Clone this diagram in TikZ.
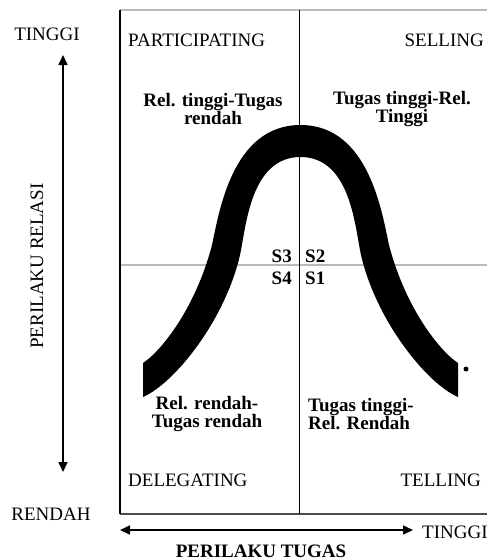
\documentclass[tikz,border=0pt]{standalone}
\usepackage{fontspec}
\setmainfont{Liberation Serif}
\usetikzlibrary{arrows.meta, positioning}

\begin{document}
\begin{tikzpicture}[
    x=1pt, y=-1pt,
    every node/.style={font=\fontsize{19}{18}\selectfont, inner sep=0pt},
    quad/.style={align=center, font=\fontsize{19}{18}\selectfont\bfseries},
    slabel/.style={font=\fontsize{19}{18}\selectfont\bfseries},
    axis/.style={{Triangle[length=10pt,width=9pt]}-{Triangle[length=10pt,width=9pt]}, line width=1.6pt},
    midline/.style={gray!55, line width=2pt}
]
\useasboundingbox (0,0) rectangle (487,560);

% FRAME
\draw[midline] (120,10) -- (487,10);
\draw[midline] (120,265) -- (487,265);
\draw[black!70, line width=1.5pt] (120,514) -- (487,514);
\draw[line width=1.2pt] (120,10) -- (120,514);
\draw[line width=0.8pt] (299,10) -- (299,514);

% CURVE
\fill (143,363) .. controls (160,352) and (195,310) .. (212,245)
  .. controls (219,213) and (232,125) .. (300.5,125)
  .. controls (369,125) and (382,213) .. (389,245)
  .. controls (406,310) and (441,352) .. (458,363)
  -- (458,397) .. controls (426,383) and (376,320) .. (361,255)
  .. controls (355,228) and (351,157) .. (300.5,157)
  .. controls (250,157) and (246,228) .. (240,255)
  .. controls (225,320) and (175,383) .. (143,397) -- cycle;
\fill (466,369) circle (2.5);

% NODES
\node[anchor=base] (tinggiRel) at (47,40) {TINGGI};
\node[anchor=base] (rendahRel) at (51,520) {RENDAH};
\node[anchor=base, rotate=90] (perilakuRel) at (43,266) {PERILAKU RELASI};
\node[anchor=base west] (tinggiTgs) at (422,538) {TINGGI};
\node[anchor=base, slabel] (perilakuTgs) at (261,557) {PERILAKU TUGAS};

\node[anchor=base west] (participating) at (128,46) {PARTICIPATING};
\node[anchor=base east] (selling) at (484,46) {SELLING};
\node[anchor=base west] (delegating) at (128,486) {DELEGATING};
\node[anchor=base east] (telling) at (481,486) {TELLING};

\node[quad] (descS3) at (213,109) {Rel. tinggi-Tugas\\rendah};
\node[quad] (descS2) at (402,109) {Tugas tinggi-Rel.\\Tinggi};
\node[quad] (descS4) at (207,414) {Rel. rendah-\\Tugas rendah};
\node[quad, align=left, anchor=west] (descS1) at (308,414) {Tugas tinggi-\\Rel. Rendah};

\node[slabel, anchor=base east] (s3) at (292,262) {S3};
\node[slabel, anchor=base west] (s2) at (305,262) {S2};
\node[slabel, anchor=base east] (s4) at (292,284) {S4};
\node[slabel, anchor=base west] (s1) at (305,284) {S1};

% ARROWS
\coordinate (relTop) at (63,55);
\coordinate (relBot) at (63,472);
\coordinate (tgsLeft) at (120,530);
\coordinate (tgsRight) at (413,530);
\draw[axis] (relTop) -- (relBot);
\draw[axis] (tgsLeft) -- (tgsRight);

\end{tikzpicture}
\end{document}
